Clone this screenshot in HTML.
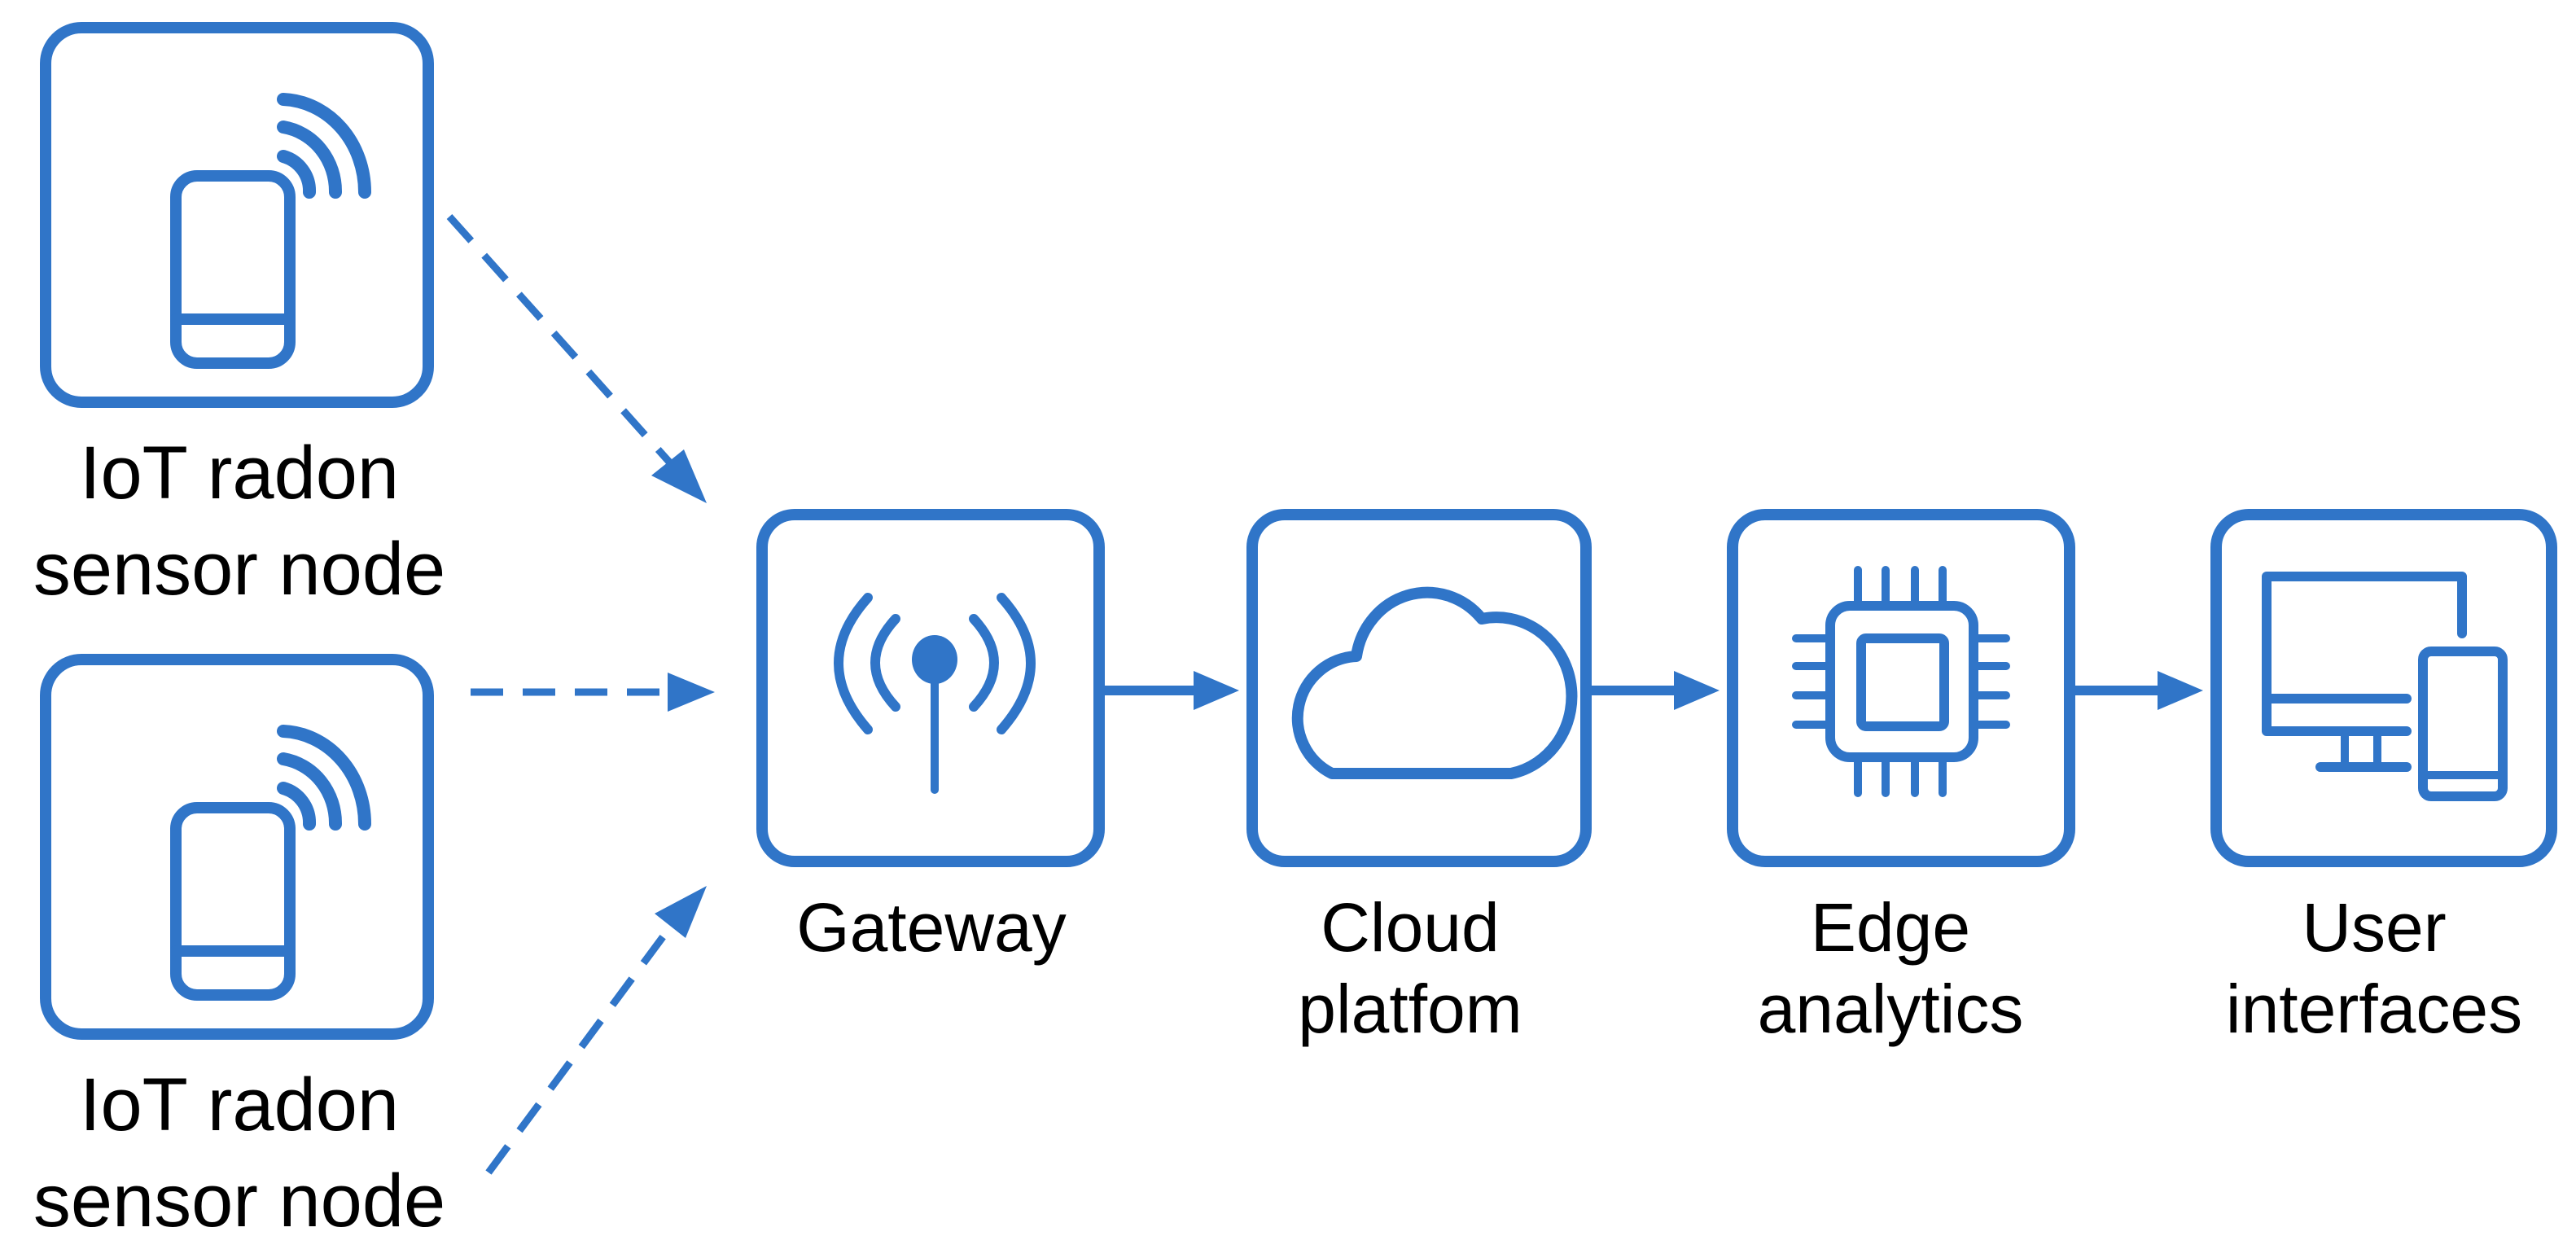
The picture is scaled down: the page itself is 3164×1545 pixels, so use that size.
<!DOCTYPE html>
<html><head><meta charset="utf-8"><style>
html,body{margin:0;padding:0;background:#fff;}
svg{display:block;}
text{font-family:"Liberation Sans",Arial,sans-serif;fill:#000;text-anchor:middle;}
</style></head><body>
<svg width="3164" height="1545" viewBox="0 0 1582 772.5" xmlns="http://www.w3.org/2000/svg">
<g fill="none" stroke="#3075c8" stroke-width="7" stroke-linecap="round" stroke-linejoin="round">
<rect x="28" y="17" width="235" height="230" rx="22"/>
<rect x="28" y="405" width="235" height="230" rx="22"/>
<g>
<rect x="108" y="108" width="70" height="115" rx="13" stroke-width="7"/>
<line x1="108" y1="196" x2="178" y2="196" stroke-width="7"/>
<path d="M174,96 A22,22 0 0 1 190,118" stroke-width="8"/>
<path d="M174,78 A38,40 0 0 1 206,118" stroke-width="8"/>
<path d="M174,61 A52,57 0 0 1 224,118" stroke-width="8"/>
</g>
<g transform="translate(0,388)">
<rect x="108" y="108" width="70" height="115" rx="13" stroke-width="7"/>
<line x1="108" y1="196" x2="178" y2="196" stroke-width="7"/>
<path d="M174,96 A22,22 0 0 1 190,118" stroke-width="8"/>
<path d="M174,78 A38,40 0 0 1 206,118" stroke-width="8"/>
<path d="M174,61 A52,57 0 0 1 224,118" stroke-width="8"/>
</g>
<rect x="468" y="316" width="207" height="213" rx="20"/>
<rect x="769" y="316" width="205" height="213" rx="20"/>
<rect x="1064" y="316" width="207" height="213" rx="20"/>
<rect x="1361" y="316" width="206" height="213" rx="20"/>
<line x1="574" y1="410" x2="574" y2="485" stroke-width="5"/>
<path d="M550,380 Q525,407 550,434" stroke-width="6"/>
<path d="M598,380 Q623,407 598,434" stroke-width="6"/>
<path d="M533,367 Q497,407 533,448" stroke-width="6"/>
<path d="M615,367 Q651,407 615,448" stroke-width="6"/>
<path d="M818,475 A38,38 0 0 1 833,403 A44,46 0 0 1 910,380 A42,44 0 0 1 928,475 Z" stroke-width="7"/>
<rect x="1124" y="372" width="88" height="93" rx="12" stroke-width="6"/>
<rect x="1143" y="392" width="51" height="54" rx="3" stroke-width="6"/>
<g stroke-width="5">
<line x1="1141" y1="350" x2="1141" y2="372"/><line x1="1158" y1="350" x2="1158" y2="372"/><line x1="1176" y1="350" x2="1176" y2="372"/><line x1="1193" y1="350" x2="1193" y2="372"/>
<line x1="1141" y1="465" x2="1141" y2="487"/><line x1="1158" y1="465" x2="1158" y2="487"/><line x1="1176" y1="465" x2="1176" y2="487"/><line x1="1193" y1="465" x2="1193" y2="487"/>
<line x1="1103" y1="392" x2="1124" y2="392"/><line x1="1103" y1="409" x2="1124" y2="409"/><line x1="1103" y1="427" x2="1124" y2="427"/><line x1="1103" y1="445" x2="1124" y2="445"/>
<line x1="1212" y1="392" x2="1232" y2="392"/><line x1="1212" y1="409" x2="1232" y2="409"/><line x1="1212" y1="427" x2="1232" y2="427"/><line x1="1212" y1="445" x2="1232" y2="445"/>
</g>
<path d="M1478,449 L1392,449 L1392,354 L1512,354 L1512,389" stroke-width="6"/>
<line x1="1392" y1="429" x2="1478" y2="429" stroke-width="6"/>
<line x1="1440" y1="449" x2="1440" y2="471" stroke-width="5"/>
<line x1="1460" y1="449" x2="1460" y2="471" stroke-width="5"/>
<line x1="1425" y1="471" x2="1478" y2="471" stroke-width="6"/>
<rect x="1488" y="400" width="49" height="89" rx="5" stroke-width="6"/>
<line x1="1488" y1="476" x2="1537" y2="476" stroke-width="5"/>
<line x1="675" y1="424" x2="735" y2="424" stroke-width="6" stroke-linecap="butt"/>
<line x1="974" y1="424" x2="1030" y2="424" stroke-width="6" stroke-linecap="butt"/>
<line x1="1271" y1="424" x2="1327" y2="424" stroke-width="6" stroke-linecap="butt"/>
<g stroke-width="4.5" stroke-dasharray="20,12" stroke-linecap="butt">
<line x1="276" y1="133" x2="414" y2="287"/>
<line x1="289" y1="425" x2="412" y2="425"/>
<line x1="300" y1="720" x2="414" y2="566"/>
</g>
</g>
<g fill="#3075c8">
<ellipse cx="574" cy="405" rx="14" ry="15"/>
<path d="M733,412 L761,424 L733,436 Z"/>
<path d="M1028,412 L1056,424 L1028,436 Z"/>
<path d="M1325,412 L1353,424 L1325,436 Z"/>
<path d="M434,309 L400,292 L420,276 Z"/>
<path d="M439,425 L410,413 L410,437 Z"/>
<path d="M434,544 L402,561 L421,576 Z"/>
</g>
<g font-size="46">
<text x="147" y="306">IoT radon</text>
<text x="147" y="365">sensor node</text>
<text x="147" y="694">IoT radon</text>
<text x="147" y="753">sensor node</text>
</g>
<g font-size="42">
<text x="572" y="584">Gateway</text>
<text x="866" y="584">Cloud</text>
<text x="866" y="634">platfom</text>
<text x="1161" y="584">Edge</text>
<text x="1161" y="634">analytics</text>
<text x="1458" y="584">User</text>
<text x="1458" y="634">interfaces</text>
</g>
</svg>
</body></html>
